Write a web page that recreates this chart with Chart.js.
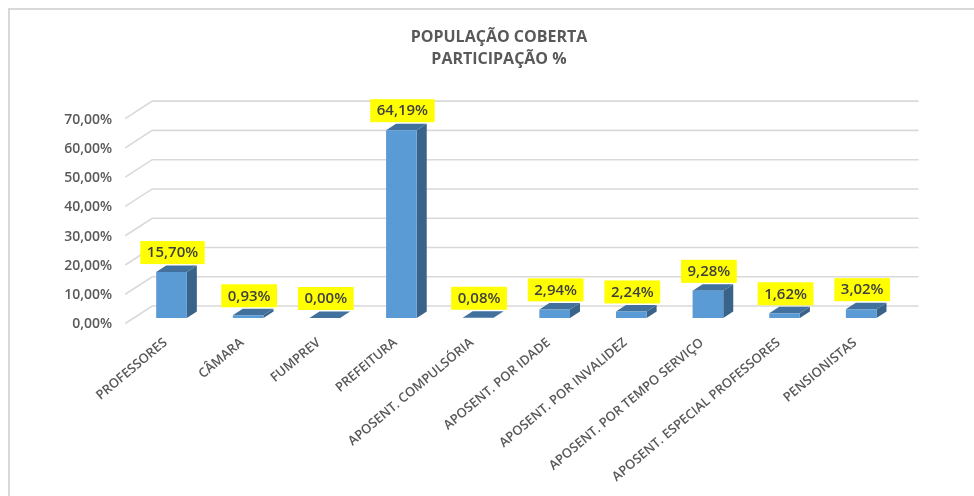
<!DOCTYPE html>
<html>
<head>
<meta charset="utf-8">
<title>População coberta</title>
<script src="https://cdn.jsdelivr.net/npm/chart.js@4"></script>
<style>
    html, body { margin: 0; padding: 0; background: #fff; }
    canvas { display: block; filter: blur(0.4px); }
</style>
</head>
<body>
<canvas id="barChart" width="974" height="496"></canvas>
<script>
const titleLines = ['POPULAÇÃO COBERTA', 'PARTICIPAÇÃO %'];
const categories = [
    'PROFESSORES',
    'CÂMARA',
    'FUMPREV',
    'PREFEITURA',
    'APOSENT. COMPULSÓRIA',
    'APOSENT. POR IDADE',
    'APOSENT. POR INVALIDEZ',
    'APOSENT. POR TEMPO SERVIÇO',
    'APOSENT. ESPECIAL PROFESSORES',
    'PENSIONISTAS'
];
const participacao = [15.70, 0.93, 0.00, 64.19, 0.08, 2.94, 2.24, 9.28, 1.62, 3.02];

const fontName = '"Open Sans", sans-serif';
const fmt = v => v.toFixed(2).replace('.', ',') + '%';

// moldura, paredes e faces laterais (o Chart.js nao tem barra 3D)
const fake3d = {
    id: 'fake3d',
    afterLayout(chart) {
        chart.titleBlock.left = 24;
        chart.titleBlock.right = 974;
    },
    beforeDraw(chart) {
        const ctx = chart.ctx;
        ctx.save();
        ctx.strokeStyle = '#d9d9d9';
        ctx.lineWidth = 2;
        ctx.beginPath();
        ctx.moveTo(9, 496);
        ctx.lineTo(9, 9);
        ctx.lineTo(974, 9);
        ctx.stroke();
        ctx.restore();
    },
    beforeDatasetsDraw(chart) {
        const ctx = chart.ctx, y = chart.scales.y, area = chart.chartArea;
        ctx.save();
        ctx.strokeStyle = '#d9d9d9';
        ctx.lineWidth = 1.6;
        y.ticks.forEach((t, i) => {
            const py = y.getPixelForTick(i);
            ctx.beginPath();
            ctx.moveTo(area.left - 8, py + 5.5);
            ctx.lineTo(area.left + 19, py - 12);
            ctx.lineTo(area.right + 19, py - 12);
            ctx.stroke();
        });
        // faces de cima e do lado
        const dx = 10, dy = 6.5;
        chart.getDatasetMeta(0).data.forEach(bar => {
            const r = bar.x + bar.width / 2, l = bar.x - bar.width / 2;
            ctx.fillStyle = '#3a6389';
            ctx.beginPath();
            ctx.moveTo(r, bar.y);
            ctx.lineTo(r + dx, bar.y - dy);
            ctx.lineTo(r + dx, bar.base - dy);
            ctx.lineTo(r, bar.base);
            ctx.closePath();
            ctx.fill();
            ctx.fillStyle = '#41719c';
            ctx.beginPath();
            ctx.moveTo(l, bar.y);
            ctx.lineTo(l + dx, bar.y - dy);
            ctx.lineTo(r + dx, bar.y - dy);
            ctx.lineTo(r, bar.y);
            ctx.closePath();
            ctx.fill();
        });
        ctx.restore();
    },
    afterDatasetsDraw(chart) {
        const ctx = chart.ctx;
        ctx.save();
        ctx.font = '600 15px ' + fontName;
        ctx.textAlign = 'center';
        ctx.textBaseline = 'middle';
        chart.getDatasetMeta(0).data.forEach((bar, i) => {
            const txt = fmt(participacao[i]);
            const w = ctx.measureText(txt).width + 13, h = 23;
            const cx = bar.x + 1, top = bar.y - 8 - h;
            ctx.fillStyle = '#ffff00';
            ctx.fillRect(cx - w / 2, top, w, h);
            ctx.fillStyle = '#404040';
            ctx.fillText(txt, cx, top + h / 2 + 0.5);
        });
        ctx.restore();
    }
};

new Chart(document.getElementById('barChart'), {
    type: 'bar',
    data: {
        labels: categories,
        datasets: [{
            label: 'Participação %',
            data: participacao,
            backgroundColor: '#5b9bd5',
            barPercentage: 0.4,
            categoryPercentage: 1
        }]
    },
    options: {
        responsive: false,
        animation: false,
        layout: { padding: { left: 24, right: 74.5, top: 0, bottom: 0 } },
        plugins: {
            legend: { display: false },
            tooltip: { enabled: false },
            title: {
                display: true,
                text: titleLines,
                color: '#595959',
                font: { family: fontName, size: 16, weight: '700', lineHeight: 1.38 },
                padding: { top: 26, bottom: 43 }
            }
        },
        scales: {
            x: {
                grid: { display: false },
                border: { display: false },
                afterFit: s => { s.height = 178; },
                ticks: {
                    autoSkip: false,
                    minRotation: 40,
                    maxRotation: 40,
                    padding: 9,
                    labelOffset: -6,
                    color: '#595959',
                    font: { family: fontName, size: 13, weight: '600' }
                }
            },
            y: {
                min: 0,
                max: 70,
                grid: { display: false },
                border: { display: false },
                afterFit: s => { s.width = 109.2; },
                ticks: {
                    stepSize: 10,
                    padding: 13,
                    labelOffset: 6.5,
                    color: '#595959',
                    font: { family: fontName, size: 14, weight: '600' },
                    callback: v => fmt(v)
                }
            }
        }
    },
    plugins: [fake3d]
});
</script>
</body>
</html>
